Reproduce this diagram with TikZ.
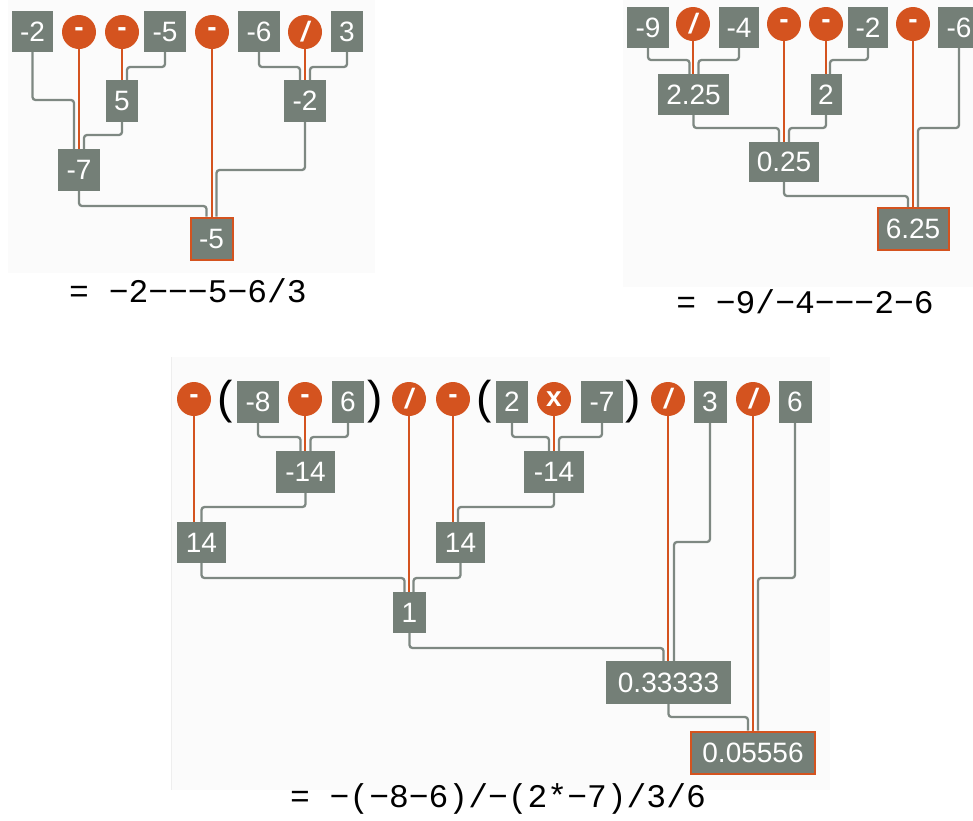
\documentclass[tikz,border=0pt]{standalone}
\usepackage{fontspec}
\setsansfont{Liberation Sans}
\newfontfamily\monof{Liberation Mono}[Ligatures=TeXOff]
\definecolor{boxg}{HTML}{747F77}
\definecolor{lineg}{HTML}{7E8882}
\definecolor{opor}{HTML}{D4531F}
\definecolor{panel}{HTML}{FBFBFB}
\definecolor{panelline}{HTML}{EEEEEE}
\newcommand\wire[4]{\path (0,#2) coordinate (wy); \draw[gline] (#1.south) -- (#1.south |- wy) -| ([xshift=#4]#3.north);}
\newcommand\opwire[2]{\draw[oline] (#1.south) -- (#1.south |- #2.north);}
\begin{document}
\begin{tikzpicture}[x=1pt,y=-1pt,
 valbox/.style={fill=boxg, text=white, font=\sffamily\fontsize{28}{28}\selectfont, minimum width=#1, minimum height=41, inner sep=0},
 resbox/.style={valbox=#1, draw=opor, line width=2, minimum height=42},
 opnode/.style={circle, fill=opor, text=white, minimum size=34, inner sep=0, font=\sffamily\bfseries\fontsize{28}{28}\selectfont},
 paren/.style={font=\sffamily\fontsize{46}{46}\selectfont, inner sep=0},
 gline/.style={draw=lineg, line width=2.3, rounded corners=3},
 oline/.style={draw=opor, line width=2.3},
 formula/.style={font=\monof\fontsize{33}{33}\selectfont, anchor=base, inner sep=0}]
\clip (0,0) rectangle (973,820);
\fill[white] (0,0) rectangle (973,820);
% panels
\fill[panel] (8,0) rectangle (375,273);
\fill[panel] (623,0) rectangle (973,287);
\fill[panel] (171,357) rectangle (830,790);
\draw[panelline, line width=1] (171,357) -- (171,790);

% ---------- top left ----------
\node[valbox=41] (a1) at (32.5,31.5) {-2};
\node[opnode] (o1) at (79,32) {-};
\node[opnode] (o2) at (122,32) {-};
\node[valbox=42] (a2) at (165,31.5) {-5};
\node[opnode] (o3) at (212,32) {-};
\node[valbox=42] (a3) at (259,31.5) {-6};
\node[opnode] (o4) at (305,32) {\itshape /};
\node[valbox=32] (a4) at (347,31.5) {3};
\node[valbox=32, minimum height=42] (b1) at (122,101) {5};
\node[valbox=42, minimum height=42] (b2) at (305,101) {-2};
\node[valbox=42, minimum height=42] (c1) at (79,170) {-7};
\node[resbox=42] (r1) at (211.5,238.5) {-5};

\wire{a1}{100}{c1}{-5}
\opwire{o1}{c1}
\wire{a2}{67}{b1}{5}
\opwire{o2}{b1}
\wire{b1}{135}{c1}{5}
\wire{a3}{67}{b2}{-5}
\opwire{o4}{b2}
\wire{a4}{67}{b2}{5}
\wire{c1}{206}{r1}{-5}
\opwire{o3}{r1}
\wire{b2}{170}{r1}{5}

\node[formula] (fa) at (188,302) {= −2−−−5−6/3};

% ---------- top right ----------
\node[valbox=42] (d1) at (648,27.5) {-9};
\node[opnode] (p1) at (693,24) {\itshape /};
\node[valbox=40] (d2) at (739,27.5) {-4};
\node[opnode] (p2) at (784,24) {-};
\node[opnode] (p3) at (826,24) {-};
\node[valbox=40] (d3) at (868,27.5) {-2};
\node[opnode] (p4) at (913,24) {-};
\node[valbox=42] (d4) at (959,27.5) {-6};
\node[valbox=71] (e1) at (693.5,94.5) {2.25};
\node[valbox=31] (e2) at (826,94.5) {2};
\node[valbox=70, minimum height=40] (f1) at (784,162) {0.25};
\node[resbox=71] (g1) at (913,229) {6.25};

\wire{d1}{60}{e1}{-4}
\opwire{p1}{e1}
\wire{d2}{60}{e1}{5}
\opwire{p3}{e2}
\wire{d3}{60}{e2}{4}
\wire{e1}{128}{f1}{-5}
\opwire{p2}{f1}
\wire{e2}{128}{f1}{5}
\wire{f1}{196}{g1}{-5}
\opwire{p4}{g1}
\wire{d4}{128}{g1}{5}

\node[formula] (fb) at (805,313) {= −9/−4−−−2−6};

% ---------- bottom ----------
\node[opnode] (q1) at (194,399) {-};
\node[paren] (lp1) at (225,402) {(};
\node[valbox=42, minimum height=42] (h1) at (258,402) {-8};
\node[opnode] (q2) at (305,399) {-};
\node[valbox=32, minimum height=42] (h2) at (348,402) {6};
\node[paren] (rp1) at (375,402) {)};
\node[opnode] (q3) at (409,399) {\itshape /};
\node[opnode] (q4) at (453,399) {-};
\node[paren] (lp2) at (484,402) {(};
\node[valbox=32, minimum height=42] (h3) at (512,402) {2};
\node[opnode] (q5) at (554,399) {x};
\node[valbox=42, minimum height=42] (h4) at (602,402) {-7};
\node[paren] (rp2) at (633,402) {)};
\node[opnode] (q6) at (668,399) {\itshape /};
\node[valbox=33, minimum height=42] (h5) at (710,402) {3};
\node[opnode] (q7) at (753,399) {\itshape /};
\node[valbox=33, minimum height=42] (h6) at (795,402) {6};

\node[valbox=59, minimum height=42] (i1) at (305.5,472) {-14};
\node[valbox=60, minimum height=42] (i2) at (554,472) {-14};
\node[valbox=49] (j1) at (201.5,542.5) {14};
\node[valbox=49] (j2) at (460.5,542.5) {14};
\node[valbox=33] (k1) at (409.5,612.5) {1};
\node[valbox=125, minimum height=43] (l1) at (668.5,682.5) {0.33333};
\node[resbox=124] (m1) at (753,752.5) {0.05556};

\wire{h1}{437}{i1}{-5}
\opwire{q2}{i1}
\wire{h2}{437}{i1}{5}
\wire{h3}{437}{i2}{-5}
\opwire{q5}{i2}
\wire{h4}{437}{i2}{5}
\opwire{q1}{j1}
\wire{i1}{507}{j1}{0}
\opwire{q4}{j2}
\wire{i2}{507}{j2}{-2.5}
\wire{j1}{578}{k1}{-5}
\opwire{q3}{k1}
\wire{j2}{578}{k1}{4}
\wire{k1}{648}{l1}{-5}
\opwire{q6}{l1}
\wire{h5}{542}{l1}{5.5}
\wire{l1}{717}{m1}{-5}
\opwire{q7}{m1}
\wire{h6}{578}{m1}{5}

\node[formula] (fc) at (498,807) {= −(−8−6)/−(2*−7)/3/6};
\end{tikzpicture}
\end{document}
